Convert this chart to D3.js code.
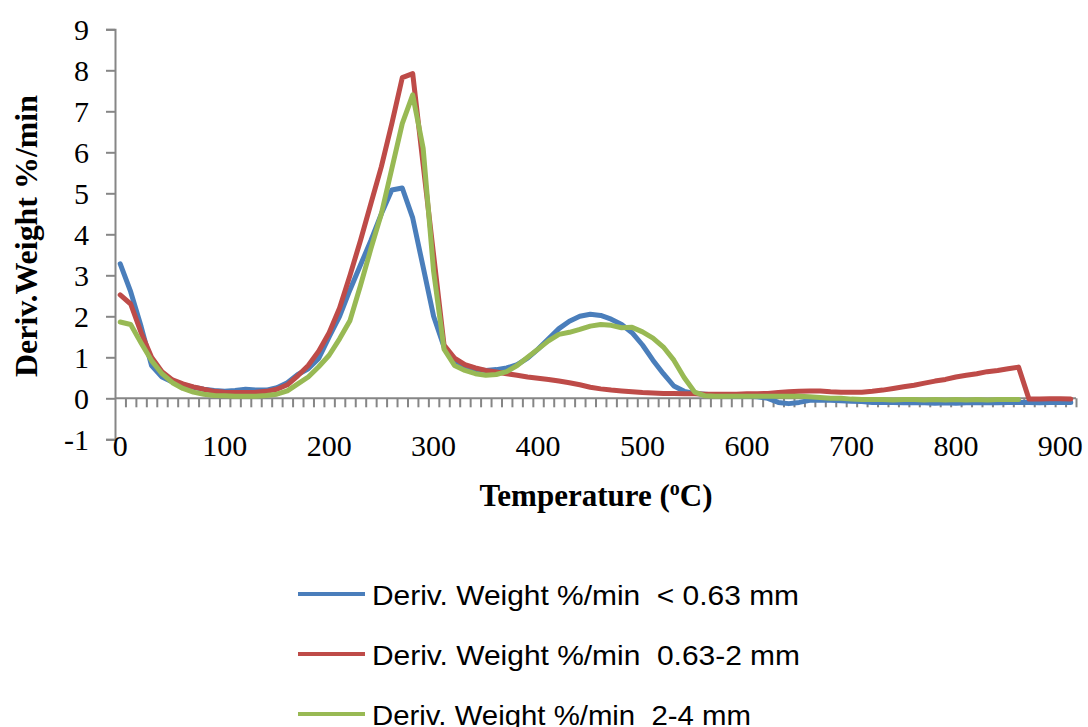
<!DOCTYPE html>
<html>
<head>
<meta charset="utf-8">
<script src="https://cdn.jsdelivr.net/npm/d3@7"></script>
<style>
  html, body { margin: 0; padding: 0; background: #fff; }
  svg { display: block; }
</style>
</head>
<body>
<svg id="chart" width="1088" height="727"></svg>
<script>
// Temperature categories (°C)
const temperature = [0,10,20,30,40,50,60,70,80,90,100,110,120,130,140,150,160,170,180,190,
  200,210,220,230,240,250,260,270,280,290,300,310,320,330,340,350,360,370,380,390,
  400,410,420,430,440,450,460,470,480,490,500,510,520,530,540,550,560,570,580,590,
  600,610,620,630,640,650,660,670,680,690,700,710,720,730,740,750,760,770,780,790,
  800,810,820,830,840,850,860,870,880,890,900,910];

// Deriv. Weight %/min, particle size < 0.63 mm
const fine = [3.28,2.6,1.75,0.8,0.52,0.4,0.33,0.27,0.22,0.19,0.17,0.19,0.22,0.2,0.2,0.26,0.38,0.58,0.72,0.97,
  1.5,2.0,2.65,3.25,3.85,4.5,5.08,5.13,4.4,3.2,2.0,1.25,0.86,0.76,0.7,0.68,0.7,0.74,0.82,0.98,
  1.2,1.45,1.7,1.88,2.0,2.05,2.02,1.93,1.8,1.6,1.3,0.93,0.6,0.3,0.17,0.12,0.1,0.08,0.06,0.05,
  0.05,0.04,0.0,-0.1,-0.13,-0.1,-0.05,-0.04,-0.05,-0.06,-0.07,-0.08,-0.1,-0.1,-0.1,-0.11,-0.1,-0.11,-0.12,-0.11,
  -0.12,-0.11,-0.11,-0.1,-0.11,-0.1,-0.1,-0.1,-0.11,-0.1,-0.1,-0.1];

// Deriv. Weight %/min, particle size 0.63-2 mm
const medium = [2.52,2.3,1.6,1.0,0.65,0.45,0.35,0.28,0.22,0.17,0.15,0.14,0.14,0.15,0.17,0.22,0.33,0.55,0.8,1.15,
  1.6,2.2,3.0,3.85,4.75,5.65,6.7,7.82,7.92,5.7,3.5,1.3,0.98,0.82,0.74,0.68,0.64,0.6,0.56,0.52,
  0.49,0.46,0.42,0.38,0.33,0.27,0.23,0.2,0.18,0.16,0.14,0.13,0.12,0.12,0.11,0.11,0.1,0.1,0.1,0.1,
  0.11,0.11,0.12,0.14,0.16,0.17,0.18,0.18,0.16,0.15,0.15,0.15,0.17,0.2,0.24,0.28,0.32,0.37,0.42,0.46,
  0.52,0.56,0.6,0.65,0.68,0.72,0.76,-0.02,-0.02,-0.01,-0.01,-0.02];

// Deriv. Weight %/min, particle size 2-4 mm (recorded up to 860 °C)
const coarse = [1.86,1.8,1.35,0.92,0.6,0.38,0.24,0.15,0.1,0.07,0.06,0.05,0.05,0.05,0.07,0.1,0.18,0.35,0.52,0.77,
  1.05,1.45,1.9,2.75,3.65,4.5,5.6,6.7,7.4,6.1,3.1,1.2,0.8,0.68,0.6,0.56,0.58,0.65,0.8,1.0,
  1.2,1.4,1.56,1.61,1.68,1.76,1.8,1.78,1.72,1.73,1.62,1.47,1.25,0.93,0.5,0.15,0.06,0.05,0.05,0.05,
  0.05,0.05,0.05,0.05,0.05,0.05,0.04,0.02,0.0,0.0,-0.02,-0.03,-0.03,-0.03,-0.04,-0.03,-0.03,-0.04,-0.03,-0.04,
  -0.03,-0.04,-0.03,-0.04,-0.03,-0.03,-0.03];

const seriesNames = ["Deriv. Weight %/min  < 0.63 mm", "Deriv. Weight %/min  0.63-2 mm", "Deriv. Weight %/min  2-4 mm"];
const seriesColors = ["#4a7ebb", "#be4b48", "#98b954"];
const seriesValues = [fine, medium, coarse];

const xTickLabels = [0,100,200,300,400,500,600,700,800,900];
const yTickLabels = [-1,0,1,2,3,4,5,6,7,8,9];

const xTitle = "Temperature (";
const yTitle = "Deriv.Weight %/min";

const svg = d3.select("#chart");

// Category axis: each temperature sits in the middle of a 10 °C slot
const x = d3.scaleLinear().domain([-5, 915]).range([115, 1076]);
const y = d3.scaleLinear().domain([-1, 9]).range([439.3, 29.3]);

const axisColor = "#868686";
const serif = "'Liberation Serif', 'Times New Roman', serif";

// Y axis
const yAxis = d3.axisLeft(y).tickValues(yTickLabels).tickSize(9).tickPadding(17)
  .tickFormat(d => String(d));
const gy = svg.append("g").attr("transform", `translate(${x(-5)},0)`).call(yAxis);
gy.select(".domain").attr("stroke", axisColor).attr("stroke-width", 2);
gy.selectAll(".tick line").attr("stroke", axisColor).attr("stroke-width", 2);
gy.selectAll(".tick text").attr("font-family", serif).attr("font-size", 30).attr("fill", "#000")
  .attr("dy", "0.34em");

// X axis line at y = 0 with small slot ticks underneath
const slotEdges = [];
for (let i = 1; i <= temperature.length; i++) slotEdges.push(temperature[0] - 5 + i * 10);
const gx = svg.append("g").attr("transform", `translate(0,${y(0)})`)
  .call(d3.axisBottom(x).tickValues(slotEdges).tickSize(9).tickFormat(""));
gx.select(".domain").attr("stroke", axisColor).attr("stroke-width", 2).attr("d", `M${x(-5)},0H${x(915)}`);
gx.selectAll(".tick line").attr("stroke", axisColor).attr("stroke-width", 2);

// X labels sit below the plot area
svg.append("g").selectAll("text").data(xTickLabels).join("text")
  .attr("x", d => x(d)).attr("y", 455.5)
  .attr("text-anchor", "middle")
  .attr("font-family", serif).attr("font-size", 30).attr("fill", "#000")
  .text(d => d);

// Series lines
const line = d3.line().x((d, i) => x(temperature[i])).y(d => y(d));
seriesValues.forEach((vals, k) => {
  svg.append("path")
    .datum(vals)
    .attr("d", line)
    .attr("fill", "none")
    .attr("stroke", seriesColors[k])
    .attr("stroke-width", 5)
    .attr("stroke-linejoin", "round")
    .attr("stroke-linecap", "round");
});

// Axis titles
const xt = svg.append("text").attr("x", 596).attr("y", 506)
  .attr("text-anchor", "middle")
  .attr("font-family", serif).attr("font-size", 31).attr("font-weight", "bold").attr("fill", "#000");
xt.append("tspan").text(xTitle);
xt.append("tspan").attr("font-size", 20).attr("dy", -11).text("o");
xt.append("tspan").attr("dy", 11).text("C)");

svg.append("text")
  .attr("transform", "translate(37,236) rotate(-90)")
  .attr("text-anchor", "middle")
  .attr("font-family", serif).attr("font-size", 31).attr("font-weight", "bold").attr("fill", "#000")
  .attr("textLength", 282).attr("lengthAdjust", "spacingAndGlyphs")
  .text(yTitle);

// Legend
const legendY = [594, 654, 714];
const legendTextWidth = [427, 428, 379];
const lg = svg.append("g");
seriesNames.forEach((name, k) => {
  lg.append("line").attr("x1", 298).attr("x2", 365).attr("y1", legendY[k]).attr("y2", legendY[k])
    .attr("stroke", seriesColors[k]).attr("stroke-width", 4);
  lg.append("text").attr("x", 372).attr("y", legendY[k] + 11)
    .attr("font-family", "'Liberation Sans', Arial, sans-serif").attr("font-size", 28)
    .attr("fill", "#000")
    .style("white-space", "pre")
    .attr("textLength", legendTextWidth[k]).attr("lengthAdjust", "spacingAndGlyphs")
    .text(name);
});
</script>
</body>
</html>
